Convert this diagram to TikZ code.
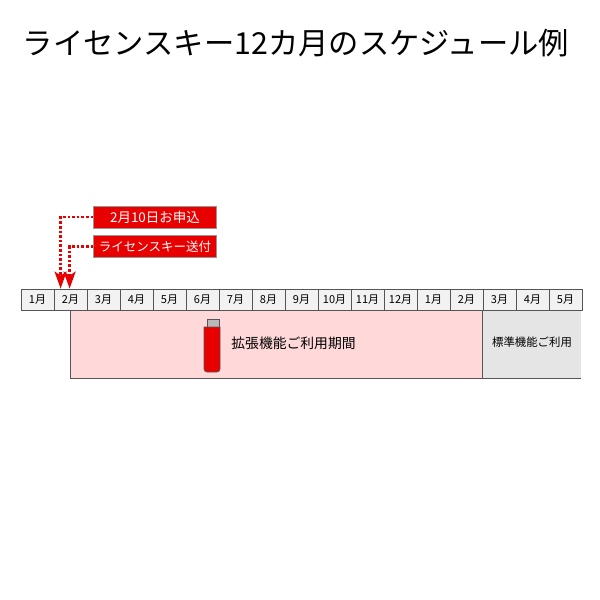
\documentclass[tikz,border=0pt]{standalone}
\usepackage{fontspec}
\newfontfamily\jp{Noto Sans CJK JP}
\usetikzlibrary{arrows.meta,calc}
\definecolor{boxred}{RGB}{232,0,0}
\definecolor{cellfill}{RGB}{242,242,242}
\definecolor{celldraw}{RGB}{85,85,85}
\definecolor{extpink}{RGB}{255,217,217}
\definecolor{stdgray}{RGB}{229,229,229}
\definecolor{boxedge}{RGB}{150,150,150}
\tikzset{
  month/.style={draw=celldraw, fill=cellfill, line width=0.8pt, minimum width=33pt, minimum height=21pt, inner sep=0pt, font=\jp\fontsize{11}{12}\selectfont},
  redbox/.style={draw=boxedge, fill=boxred, line width=0.8pt, minimum width=123pt, minimum height=22pt, inner sep=0pt, text=white, font=\jp\fontsize{12.5}{14}\selectfont},
  dotline/.style={draw=boxred, line width=2.6pt, dash pattern=on 2.6pt off 2pt, -{Stealth[length=17pt,width=12pt,inset=4pt,fill=boxred]}},
  region/.style={anchor=north west, inner sep=0pt, minimum height=68pt},
}
\begin{document}
\begin{tikzpicture}[x=1pt,y=-1pt]
\useasboundingbox (0,0) rectangle (600,600);
\fill[white] (0,0) rectangle (600,600);
% title
\node[font=\jp\fontsize{30.3}{32}\selectfont, inner sep=0pt] (title) at (296,43) {ライセンスキー12カ月のスケジュール例};
% regions
\node[region, fill=stdgray, minimum width=99pt] (std) at (482,310) {};
\draw[celldraw, line width=0.8pt] (std.south west) -- (std.south east);
\node[region, fill=extpink, draw=celldraw, line width=0.8pt, minimum width=412pt] (ext) at (70,310) {};
\node[font=\jp\fontsize{13.8}{14}\selectfont, inner sep=0pt] (extlabel) at (293.5,343) {拡張機能ご利用期間};
\node[font=\jp\fontsize{11.4}{12}\selectfont, inner sep=0pt] (stdlabel) at (532,342.5) {標準機能ご利用};
% USB stick
\draw[celldraw, fill=gray!55, line width=0.6pt] (207,319) rectangle (219,327);
\draw[celldraw, fill=boxred, line width=0.6pt] (204,327) [rounded corners=3pt] -- (204,372) -- (220,372) [sharp corners] -- (220,327) -- cycle;
% months
\foreach \t [count=\i] in {1月,2月,3月,4月,5月,6月,7月,8月,9月,10月,11月,12月,1月,2月,3月,4月,5月}
  \node[month] (m\i) at ({37.5+33*(\i-1)},299.5) {\t};
% red boxes
\node[redbox, font=\jp\fontsize{13.5}{14}\selectfont] (b1) at (155,217) {2月10日お申込};
\node[redbox] (b2) at (155,246.5) {ライセンスキー送付};
% connectors
\draw[dotline] (b1.west) -| ($(m2.north west)+(7,0)$);
\draw[dotline] (b2.west) -| ($(m2.north west)+(16,0)$);
\end{tikzpicture}
\end{document}
